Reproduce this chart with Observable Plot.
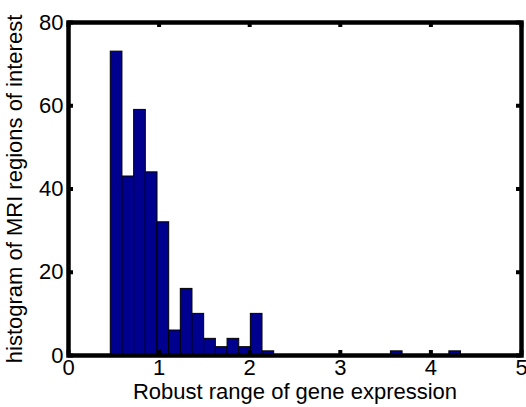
<!DOCTYPE html>
<html><head><meta charset="utf-8">
<script src="https://cdn.jsdelivr.net/npm/d3@7"></script>
<script src="https://cdn.jsdelivr.net/npm/@observablehq/plot@0.6"></script>
<style>html,body{margin:0;padding:0;background:#fff;overflow:hidden}</style>
</head><body><div id="chart"></div>
<script>
// Histogram bin centres (30 bins, MATLAB hist) and counts
const binCenters = [0.531, 0.660, 0.789, 0.918, 1.047, 1.175, 1.304, 1.433, 1.562, 1.691,
                    1.820, 1.948, 2.077, 2.206, 2.335, 2.464, 2.593, 2.721, 2.850, 2.979,
                    3.108, 3.237, 3.366, 3.494, 3.623, 3.752, 3.881, 4.010, 4.139, 4.268];
const counts = [73, 43, 59, 44, 32, 6, 16, 10, 4, 2,
                4, 2, 10, 1, 0, 0, 0, 0, 0, 0,
                0, 0, 0, 0, 1, 0, 0, 0, 0, 1];
const binWidth = 0.1288;
const xTicks = [0, 1, 2, 3, 4, 5];
const yTicks = [0, 20, 40, 60, 80];
const xLabel = "Robust range of gene expression";
const yLabel = "histogram of MRI regions of interest";

const bins = binCenters.map((c, i) => ({x1: c - binWidth / 2, x2: c + binWidth / 2, count: counts[i]}));

const W = 526, H = 407, mT = 22, mR = 5, mB = 52, mL = 68;
const fh = H - mT - mB, fw = W - mL - mR;
const tickLen = 5;
const font = "'Liberation Sans', Arial, Helvetica, sans-serif";

const chart = Plot.plot({
  width: W, height: H,
  marginTop: mT, marginRight: mR, marginBottom: mB, marginLeft: mL,
  style: {fontFamily: font, fontSize: "22px", background: "white", color: "black", overflow: "hidden"},
  x: {domain: [0, 5]},
  y: {domain: [0, 80]},
  marks: [
    Plot.rect(bins, {x1: "x1", x2: "x2", y1: 0, y2: "count", fill: "#00008f", stroke: "black", strokeWidth: 1}),
    Plot.tickX(xTicks, {x: d => d, insetTop: fh - tickLen, stroke: "black", strokeWidth: 4}),
    Plot.tickX(xTicks, {x: d => d, insetBottom: fh - tickLen, stroke: "black", strokeWidth: 4}),
    Plot.tickY(yTicks, {y: d => d, insetRight: fw - tickLen, stroke: "black", strokeWidth: 4}),
    Plot.tickY(yTicks, {y: d => d, insetLeft: fw - tickLen, stroke: "black", strokeWidth: 4}),
    Plot.frame({stroke: "black", strokeWidth: 4.5}),
    Plot.axisX(xTicks, {anchor: "bottom", tickSize: 0, tickPadding: 4, fontSize: 22,
      label: xLabel, labelAnchor: "center", labelOffset: 43, labelArrow: "none"}),
    Plot.axisY(yTicks, {anchor: "left", tickSize: 0, tickPadding: 5, fontSize: 22,
      label: yLabel, labelAnchor: "center", labelOffset: 62, labelArrow: "none"})
  ]
});
document.getElementById("chart").appendChild(chart);
</script>
</body></html>
